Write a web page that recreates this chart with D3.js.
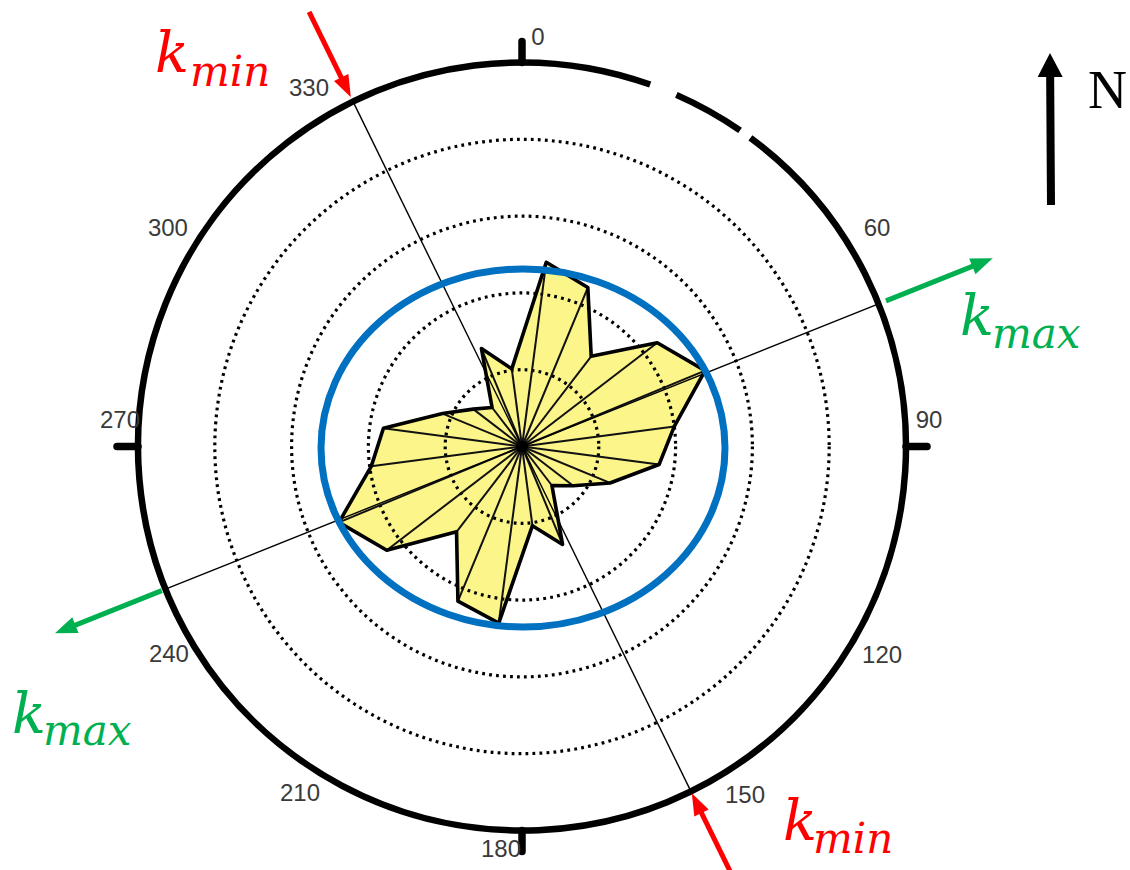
<!DOCTYPE html>
<html>
<head>
<meta charset="utf-8">
<script src="https://cdn.jsdelivr.net/npm/d3@7"></script>
<style>
  html, body { margin: 0; padding: 0; background: #fff; }
  svg { display: block; }
</style>
</head>
<body>
<svg id="chart" width="1130" height="870"></svg>
<script>
// ---- Data -------------------------------------------------------------
// Rose diagram: bin centres (degrees clockwise from north) and bin counts
const binAzimuths = [7.5, 22.5, 37.5, 52.5, 67.5, 82.5, 97.5, 112.5, 127.5, 142.5, 157.5, 172.5,
                     187.5, 202.5, 217.5, 232.5, 247.5, 262.5, 277.5, 292.5, 307.5, 322.5, 337.5, 352.5];
const binCounts   = [12.1, 11.2, 7.4, 11.1, 12.9, 10.0, 9.0, 6.2, 4.2, 3.2, 6.9, 5.2,
                     11.6, 10.9, 7.0, 11.1, 12.9, 9.9, 9.1, 5.6, 4.0, 3.2, 6.9, 5.1];

// Radial grid
const ringValues = [5, 10, 15, 20];
const maxRadius = 25;

// Angular labels and the four axis ticks
const angleTicks      = [0, 60, 90, 120, 150, 180, 210, 240, 270, 300, 330];
const angleTickLabels = ["0", "60", "90", "120", "150", "180", "210", "240", "270", "300", "330"];
const majorTicks      = [0, 90, 180, 270];

// Principal directions (azimuth, degrees)
const kmaxAzimuth = 68.2;
const kminAzimuth = 333.9;

// ---- Layout -----------------------------------------------------------
const cx = 522, cy = 446.5, R = 384;
const labelRadius = 410;
const labelNudge = {0: [16, 0], 60: [0, -14], 90: [-3, -27], 120: [5, 3], 150: [18, -7],
                    180: [-21, -8], 210: [-17, -9], 240: [2, 2], 270: [8, -27], 300: [1, -14], 330: [-8, -4]};
// outer circle is drawn as arcs (azimuth ranges) with two small breaks
const outerArcs = [[36.5, 379.5], [23.7, 34.6]];

const RED = "#ff0000", GREEN = "#00b050", BLUE = "#0070c0", YELLOW = "#fbf58a";

const svg = d3.select("#chart");
const rad = d => d * Math.PI / 180;
const r = d3.scaleLinear().domain([0, maxRadius]).range([0, R]);
const pt = (az, rr) => { const p = d3.pointRadial(rad(az), rr); return [cx + p[0], cy + p[1]]; };

const plot = svg.append("g").attr("transform", `translate(${cx},${cy})`);

// ---- Rose fill ----------------------------------------------------------
const roseData = binAzimuths.map((az, i) => ({az, v: binCounts[i]}));
const roseLine = d3.lineRadial()
  .angle(d => rad(d.az))
  .radius(d => r(d.v))
  .curve(d3.curveLinearClosed);

plot.append("path")
  .attr("d", roseLine(roseData))
  .attr("fill", YELLOW)
  .attr("stroke", "none");

// ---- Dotted rings -------------------------------------------------------
plot.selectAll("circle.ring")
  .data(ringValues)
  .join("circle")
  .attr("class", "ring")
  .attr("r", d => r(d))
  .attr("fill", "none")
  .attr("stroke", "#000")
  .attr("stroke-width", 3.2)
  .attr("stroke-dasharray", "2.8 4.2");

// ---- Spokes and outline of the rose ------------------------------------
plot.selectAll("line.spoke")
  .data(roseData)
  .join("line")
  .attr("class", "spoke")
  .attr("x1", 0).attr("y1", 0)
  .attr("x2", d => d3.pointRadial(rad(d.az), r(d.v))[0])
  .attr("y2", d => d3.pointRadial(rad(d.az), r(d.v))[1])
  .attr("stroke", "#111")
  .attr("stroke-width", 2);

plot.append("path")
  .attr("d", roseLine(roseData))
  .attr("fill", "none")
  .attr("stroke", "#000")
  .attr("stroke-width", 3.6)
  .attr("stroke-linejoin", "round");

plot.append("circle").attr("r", 6).attr("fill", "#000");

// ---- Outer circle, axis ticks and angle labels ---------------------------
outerArcs.forEach(([a0, a1]) => {
  const p = d3.path();
  p.arc(0, 0, R, rad(a0 - 90), rad(a1 - 90), false);
  plot.append("path")
    .attr("d", p.toString())
    .attr("fill", "none")
    .attr("stroke", "#000")
    .attr("stroke-width", 6.5);
});

plot.selectAll("line.major")
  .data(majorTicks)
  .join("line")
  .attr("class", "major")
  .attr("x1", d => d3.pointRadial(rad(d), R)[0])
  .attr("y1", d => d3.pointRadial(rad(d), R)[1])
  .attr("x2", d => d3.pointRadial(rad(d), R + 21)[0])
  .attr("y2", d => d3.pointRadial(rad(d), R + 21)[1])
  .attr("stroke", "#000")
  .attr("stroke-width", 7.5)
  .attr("stroke-linecap", "round");

plot.selectAll("text.angle")
  .data(angleTicks)
  .join("text")
  .attr("class", "angle")
  .attr("x", d => d3.pointRadial(rad(d), labelRadius)[0] + labelNudge[d][0])
  .attr("y", d => d3.pointRadial(rad(d), labelRadius)[1] + labelNudge[d][1])
  .attr("text-anchor", "middle")
  .attr("dominant-baseline", "central")
  .attr("font-family", "'Liberation Sans', Arial, sans-serif")
  .attr("font-size", 24)
  .attr("fill", "#3a3a3a")
  .text((d, i) => angleTickLabels[i]);

// ---- Principal direction lines ------------------------------------------
[kmaxAzimuth, kminAzimuth].forEach(az => {
  const a = pt(az, R), b = pt(az + 180, R);
  svg.append("line")
    .attr("x1", a[0]).attr("y1", a[1])
    .attr("x2", b[0]).attr("y2", b[1])
    .attr("stroke", "#000")
    .attr("stroke-width", 1.4);
});

// ---- Best-fit ellipse -----------------------------------------------------
svg.append("ellipse")
  .attr("cx", 523).attr("cy", 448)
  .attr("rx", 202).attr("ry", 179)
  .attr("fill", "none")
  .attr("stroke", BLUE)
  .attr("stroke-width", 7);

// ---- Arrows ---------------------------------------------------------------
function arrow(p0, p1, color, w, headLen, headW) {
  const dx = p1[0] - p0[0], dy = p1[1] - p0[1];
  const L = Math.hypot(dx, dy), ux = dx / L, uy = dy / L;
  const bx = p1[0] - ux * headLen, by = p1[1] - uy * headLen;
  svg.append("line")
    .attr("x1", p0[0]).attr("y1", p0[1])
    .attr("x2", bx + ux * 2).attr("y2", by + uy * 2)
    .attr("stroke", color)
    .attr("stroke-width", w);
  svg.append("path")
    .attr("d", `M${p1[0]},${p1[1]}L${bx - uy * headW / 2},${by + ux * headW / 2}L${bx + uy * headW / 2},${by - ux * headW / 2}Z`)
    .attr("fill", color);
}

arrow(pt(kmaxAzimuth, 392), pt(kmaxAzimuth, 507), GREEN, 5, 22, 17);
arrow(pt(kmaxAzimuth + 180, 388), pt(kmaxAzimuth + 180, 503), GREEN, 5, 22, 17);
arrow(pt(kminAzimuth, 484), pt(kminAzimuth, 389), RED, 5, 22, 16);
arrow(pt(kminAzimuth - 180, 484), pt(kminAzimuth - 180, 386), RED, 5, 22, 16);

// North arrow
arrow([1051, 205], [1050, 53], "#000", 8, 24, 25);
svg.append("text")
  .attr("x", 1088).attr("y", 108)
  .attr("font-family", "'Liberation Serif', 'Times New Roman', serif")
  .attr("font-size", 54)
  .attr("fill", "#000")
  .text("N");

// ---- k labels ---------------------------------------------------------------
const kLabels = [
  {sub: "min", color: RED,   kx: 155, ky: 72,  sx: 190, sy: 86},
  {sub: "min", color: RED,   kx: 783, ky: 840, sx: 813, sy: 853},
  {sub: "max", color: GREEN, kx: 960, ky: 335, sx: 992, sy: 348},
  {sub: "max", color: GREEN, kx: 12,  ky: 733, sx: 43,  sy: 745}
];
kLabels.forEach(d => {
  const t = svg.append("text")
    .attr("font-family", "'DejaVu Serif', 'Liberation Serif', serif")
    .attr("font-style", "italic")
    .attr("fill", d.color);
  t.append("tspan").attr("x", d.kx).attr("y", d.ky).attr("font-size", 56).text("k");
  t.append("tspan").attr("x", d.sx).attr("y", d.sy).attr("font-size", 42).text(d.sub);
});
</script>
</body>
</html>
